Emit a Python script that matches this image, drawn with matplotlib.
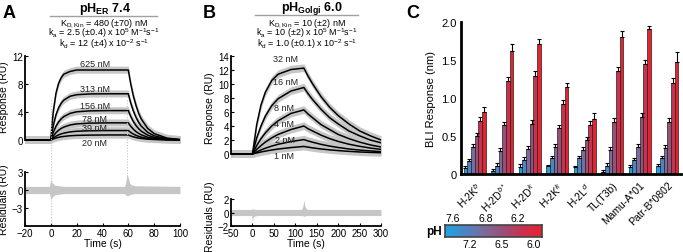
import numpy as np
import matplotlib
matplotlib.use("Agg")
import matplotlib.pyplot as plt
from matplotlib.colors import LinearSegmentedColormap

plt.rcParams['font.family'] = ['Liberation Sans', 'DejaVu Sans']
plt.rcParams['mathtext.fontset'] = 'custom'
plt.rcParams['mathtext.rm'] = 'Liberation Sans'
plt.rcParams['mathtext.it'] = 'Liberation Sans:italic'
plt.rcParams['mathtext.bf'] = 'Liberation Sans:bold'

# ---------------- data: panel A (pH ER 7.4) ----------------
a_time = [-20, 0, 1, 2, 4, 6, 8, 10, 15, 20, 30, 45, 60, 61, 62, 64, 66, 68, 70, 75, 80, 90, 100]
a_conc_labels = ["625 nM", "313 nM", "156 nM", "78 nM", "39 nM", "20 nM"]
a_625 = [0, 0, 2.4, 4.2, 6.7, 8.1, 8.9, 9.4, 9.8, 10.0, 10.0, 10.0, 10.0, 8.9, 7.9, 6.2, 4.9, 3.8, 3.0, 1.65, 0.91, 0.27, 0.08]
a_313 = [0, 0, 1.19, 2.16, 3.61, 4.59, 5.25, 5.69, 6.26, 6.47, 6.58, 6.6, 6.6, 5.85, 5.19, 4.09, 3.21, 2.53, 1.99, 1.09, 0.60, 0.18, 0.05]
a_156 = [0, 0, 0.62, 1.14, 1.97, 2.58, 3.02, 3.34, 3.81, 4.03, 4.16, 4.2, 4.2, 3.73, 3.31, 2.60, 2.05, 1.61, 1.26, 0.69, 0.38, 0.11, 0.03]
a_78 = [0, 0, 0.32, 0.60, 1.05, 1.39, 1.65, 1.84, 2.15, 2.30, 2.41, 2.45, 2.45, 2.17, 1.93, 1.52, 1.19, 0.94, 0.74, 0.40, 0.22, 0.07, 0.02]
a_39 = [0, 0, 0.16, 0.31, 0.55, 0.73, 0.87, 0.98, 1.16, 1.25, 1.32, 1.35, 1.35, 1.20, 1.06, 0.84, 0.66, 0.52, 0.41, 0.22, 0.12, 0.04, 0.01]
a_20 = [0, 0, 0.08, 0.16, 0.28, 0.38, 0.46, 0.51, 0.61, 0.66, 0.70, 0.72, 0.72, 0.64, 0.57, 0.45, 0.35, 0.28, 0.22, 0.12, 0.07, 0.02, 0.01]
a_label_pos = [(34, 10.9), (34, 7.4), (34, 4.9), (34, 3.1), (34, 1.85), (34, -0.4)]
a_res_time = [-20, -1, 0, 1, 3, 10, 57, 58, 59, 60, 61, 62, 65, 100]
a_res_hi = [0.6, 0.6, 1.8, 1.2, 0.8, 0.6, 0.6, 1.2, 2.6, 2.0, 1.2, 0.9, 0.7, 0.6]
a_res_lo = [-0.6, -0.6, -1.6, -1.2, -0.8, -0.6, -0.6, -0.8, -1.0, -0.9, -0.8, -0.7, -0.6, -0.6]

# ---------------- data: panel B (pH Golgi 6.0) ----------------
b_time = [-50, 0, 10, 20, 30, 45, 60, 90, 120, 130, 140, 160, 180, 200, 225, 250, 275, 300]
b_conc_labels = ["32 nM", "16 nM", "8 nM", "4 nM", "2 nM", "1 nM"]
b_32 = [0, 0, 4.2, 7.0, 8.8, 10.5, 11.4, 12.07, 12.27, 11.1, 10.05, 8.2, 6.7, 5.5, 4.3, 3.3, 2.6, 2.0]
b_16 = [0, 0, 2.3, 4.0, 5.4, 6.9, 7.9, 9.0, 9.5, 8.6, 7.8, 6.4, 5.2, 4.3, 3.3, 2.6, 2.0, 1.6]
b_8 = [0, 0, 1.2, 2.2, 3.0, 4.0, 4.75, 5.8, 6.3, 5.7, 5.2, 4.2, 3.5, 2.8, 2.2, 1.7, 1.3, 1.0]
b_4 = [0, 0, 0.65, 1.2, 1.7, 2.3, 2.8, 3.5, 4.0, 3.6, 3.3, 2.7, 2.2, 1.8, 1.4, 1.1, 0.85, 0.66]
b_2 = [0, 0, 0.3, 0.58, 0.82, 1.13, 1.39, 1.78, 2.06, 1.86, 1.69, 1.38, 1.13, 0.93, 0.72, 0.56, 0.44, 0.34]
b_1 = [0, 0, 0.15, 0.29, 0.41, 0.57, 0.71, 0.92, 1.08, 0.98, 0.88, 0.72, 0.59, 0.49, 0.38, 0.29, 0.23, 0.18]
b_label_pos = [(78, 13.7), (78, 10.3), (74, 6.7), (74, 4.3), (76, 2.1), (74, -0.2)]
b_res_time = [-50, -2, 0, 2, 10, 115, 118, 120, 122, 125, 130, 300]
b_res_hi = [0.45, 0.45, 0.6, 0.5, 0.45, 0.45, 1.0, 1.9, 1.0, 0.6, 0.45, 0.45]
b_res_lo = [-0.45, -0.45, -1.3, -0.6, -0.45, -0.45, -0.5, -0.6, -0.5, -0.45, -0.45, -0.45]

# ---------------- data: panel C (BLI) ----------------
alleles = ["H-2K$^{b}$", "H-2D$^{b*}$", "H-2D$^{k}$", "H-2K$^{k}$", "H-2L$^{d}$", "TL(T3b)", "Mamu-A*01", "Patr-B*0802"]
ph_values = [7.6, 7.2, 6.8, 6.5, 6.2, 6.0]
ph_labels = ["7.6", "7.2", "6.8", "6.5", "6.2", "6.0"]
bli = [
    [0.08, 0.17, 0.36, 0.50, 0.70, 0.82],
    [0.04, 0.10, 0.30, 0.64, 1.22, 1.62],
    [0.09, 0.19, 0.33, 0.66, 1.29, 1.71],
    [0.10, 0.21, 0.35, 0.60, 0.92, 1.15],
    [0.09, 0.21, 0.32, 0.45, 0.64, 0.73],
    [0.02, 0.11, 0.32, 0.69, 1.35, 1.80],
    [0.09, 0.18, 0.35, 0.75, 1.45, 1.91],
    [0.10, 0.21, 0.34, 0.69, 1.20, 1.47],
]
bli_err = [
    [0.02, 0.03, 0.04, 0.04, 0.05, 0.06],
    [0.03, 0.04, 0.04, 0.05, 0.06, 0.09],
    [0.04, 0.03, 0.04, 0.05, 0.06, 0.06],
    [0.02, 0.03, 0.04, 0.04, 0.05, 0.05],
    [0.02, 0.03, 0.04, 0.04, 0.06, 0.07],
    [0.03, 0.03, 0.04, 0.05, 0.06, 0.08],
    [0.03, 0.03, 0.04, 0.05, 0.05, 0.04],
    [0.03, 0.03, 0.04, 0.05, 0.06, 0.13],
]

W, H = 683, 253
fig = plt.figure(figsize=(W / 100, H / 100), dpi=100)

def ax_px(x0, y0, x1, y1):
    return fig.add_axes([x0 / W, 1 - y1 / H, (x1 - x0) / W, (y1 - y0) / H])

def ftext(x, y, s, **kw):
    return fig.text(x / W, 1 - y / H, s, **kw)

GRAY = '#c6c6c6'

def style_axes(ax, left_bounds, xticks=None):
    for sp in ['top', 'right']:
        ax.spines[sp].set_visible(False)
    ax.spines['left'].set_bounds(*left_bounds)
    ax.spines['left'].set_linewidth(1.3)
    ax.tick_params(axis='both', direction='in', length=2.5, width=0.8, labelsize=7, pad=1.5)
    if xticks is None:
        ax.spines['bottom'].set_visible(False)
        ax.set_xticks([])
    else:
        ax.spines['bottom'].set_linewidth(1.3)
        ax.set_xticks(xticks)
    ax.patch.set_alpha(0)

# ---------- Panel A upper ----------
axA = ax_px(25, 57, 180, 145.2)
a_series = [a_625, a_313, a_156, a_78, a_39, a_20]
for vals in a_series:
    v = np.array(vals)
    axA.fill_between(a_time, v - 0.45, v + 0.55, color=GRAY, lw=0)
axA.fill_between([-20, 0], [-0.35, -0.35], [0.45, 0.45], color=GRAY, lw=0)
for vals in a_series:
    axA.plot(a_time, vals, color='black', lw=1.1)
for lab, (tx, ty) in zip(a_conc_labels, a_label_pos):
    axA.text(tx, ty, lab, ha='center', va='center', fontsize=6.5, color='#222222')
axA.set_xlim(-20, 100)
axA.set_ylim(-0.6, 12)
axA.set_yticks([0, 4, 8, 12])
style_axes(axA, (0, 12))

# ---------- Panel A residuals ----------
axAr = ax_px(25, 173, 180, 227)
axAr.fill_between(a_res_time, a_res_lo, a_res_hi, color=GRAY, lw=0)
axAr.plot([0, 0], [-6, 15], color=GRAY, lw=0.8, ls=(0, (1, 1.5)), clip_on=False)
axAr.plot([59, 59], [0, 15], color=GRAY, lw=0.8, ls=(0, (1, 1.5)), clip_on=False)
axAr.set_xlim(-20, 100)
axAr.set_ylim(-6, 3)
axAr.set_yticks([-3, 0, 3])
style_axes(axAr, (-6, 3), xticks=[-20, 0, 20, 40, 60, 80, 100])

# ---------- Panel B upper ----------
axB = ax_px(231, 57, 381, 158.5)
b_series = [b_32, b_16, b_8, b_4, b_2, b_1]
for vals in b_series:
    v = np.array(vals)
    axB.fill_between(b_time, v - 0.5, v + 0.6, color=GRAY, lw=0)
for vals in b_series:
    axB.plot(b_time, vals, color='black', lw=1.1)
for lab, (tx, ty) in zip(b_conc_labels, b_label_pos):
    axB.text(tx, ty, lab, ha='center', va='center', fontsize=6.5, color='#222222')
axB.set_xlim(-50, 300)
axB.set_ylim(-0.5, 14)
axB.set_yticks([0, 2, 4, 6, 8, 10, 12, 14])
style_axes(axB, (0, 14))

# ---------- Panel B residuals ----------
axBr = ax_px(231, 200, 381, 227)
axBr.fill_between(b_res_time, b_res_lo, b_res_hi, color=GRAY, lw=0)
axBr.set_xlim(-50, 300)
axBr.set_ylim(-2, 2)
axBr.set_yticks([-2, 0, 2])
style_axes(axBr, (-2, 2), xticks=[-50, 0, 50, 100, 150, 200, 250, 300])

# ---------- labels / titles for A and B ----------
axA.set_ylabel("Response (RU)", fontsize=7.5, labelpad=1)
axAr.set_ylabel("Residuals (RU)", fontsize=7.5, labelpad=1)
axB.set_ylabel("Response (RU)", fontsize=7.5, labelpad=1)
axBr.set_ylabel("Residuals (RU)", fontsize=7.5, labelpad=1)
axA.yaxis.set_label_coords(-0.105, 0.55)
axAr.yaxis.set_label_coords(-0.105, 0.5)
axB.yaxis.set_label_coords(-0.105, 0.5)
axBr.yaxis.set_label_coords(-0.105, 0.4)
axAr.set_xlabel("Time (s)", fontsize=7.5, labelpad=0)
axBr.set_xlabel("Time (s)", fontsize=7.5, labelpad=0)

ftext(3, 13, "A", fontsize=13, fontweight='bold', va='center', ha='left')
ftext(203, 13, "B", fontsize=13, fontweight='bold', va='center', ha='left')
ftext(406, 13, "C", fontsize=13, fontweight='bold', va='center', ha='left')

PS = 6.5
Y1, Y2, Y3 = 23.5, 33.5, 43.8
ftext(105, 9, r"pH$_{\mathbf{ER}}$ 7.4", fontsize=9, fontweight='bold', ha='center', va='center')
fig.add_artist(plt.Line2D([50 / W, 157 / W], [1 - 17 / H, 1 - 17 / H], color='#a0a0a0', lw=1))
ftext(104, Y1, r"K$_{\mathrm{D,Kin}}$ = 480 (±70) nM", fontsize=PS, ha='center', va='center')
ftext(104, Y2, r"k$_{\mathrm{a}}$ = 2.5 (±0.4) x 10$^{5}$ M$^{-1}$s$^{-1}$", fontsize=PS, ha='center', va='center')
ftext(104, Y3, r"k$_{\mathrm{d}}$ = 12 (±4) x 10$^{-2}$ s$^{-1}$", fontsize=PS, ha='center', va='center')

ftext(312, 8, r"pH$_{\mathbf{Golgi}}$ 6.0", fontsize=9, fontweight='bold', ha='center', va='center')
fig.add_artist(plt.Line2D([255 / W, 358 / W], [1 - 16 / H, 1 - 16 / H], color='#a0a0a0', lw=1))
ftext(307, Y1, r"K$_{\mathrm{D,Kin}}$ = 10 (±2) nM", fontsize=PS, ha='center', va='center')
ftext(307, Y2, r"k$_{\mathrm{a}}$ = 10 (±2) x 10$^{5}$ M$^{-1}$s$^{-1}$", fontsize=PS, ha='center', va='center')
ftext(307, Y3, r"k$_{\mathrm{d}}$ = 1.0 (±0.1) x 10$^{-2}$ s$^{-1}$", fontsize=PS, ha='center', va='center')

# ---------- Panel C ----------
cmap = LinearSegmentedColormap.from_list('ph', ['#1fa3e2', '#4a86c6', '#7a6c9c', '#9a4f78', '#c8324f', '#e8232f'])
axC = ax_px(461, 23, 681, 175)
n = len(ph_values)
bw = 0.135
for gi, (vals, errs) in enumerate(zip(bli, bli_err)):
    for j in range(n):
        x = gi + (j - (n - 1) / 2) * bw
        axC.bar(x, vals[j], width=bw, color=cmap(j / (n - 1)), edgecolor='#222222', linewidth=0.5)
        axC.errorbar(x, vals[j], yerr=[[0], [errs[j]]], color='black', elinewidth=0.8,
                     capsize=1.4, capthick=0.8, fmt='none')
axC.set_xlim(-0.5, len(alleles) - 0.5)
axC.set_ylim(0, 2.0)
axC.set_yticks([0, 0.5, 1.0, 1.5, 2.0])
axC.set_yticklabels(["0", "0.5", "1.0", "1.5", "2.0"])
axC.set_xticks(range(len(alleles)))
axC.set_xticklabels(alleles, rotation=45, ha='right', va='top', rotation_mode='anchor', fontsize=7.5)
for sp in ['top', 'right']:
    axC.spines[sp].set_visible(False)
axC.spines['left'].set_linewidth(2)
axC.spines['bottom'].set_linewidth(2)
axC.tick_params(axis='y', direction='in', length=0, labelsize=8, pad=3)
axC.tick_params(axis='x', length=0, pad=4)
axC.set_ylabel("BLI Response (nm)", fontsize=8, labelpad=4)

# colorbar
axCb = ax_px(445, 226, 542, 238)
grad = np.linspace(0, 1, 256).reshape(1, -1)
axCb.imshow(grad, aspect='auto', cmap=cmap, extent=[0, len(ph_values), 0, 1])
axCb.set_xticks([])
axCb.set_yticks([])
for sp in axCb.spines.values():
    sp.set_linewidth(1.2)
    sp.set_color('#444444')
for j, lab in enumerate(ph_labels):
    if j % 2 == 0:
        axCb.text(j + 0.5, 1.15, lab, ha='center', va='bottom', fontsize=7.5, transform=axCb.transData, clip_on=False)
    else:
        axCb.text(j + 0.5, -0.15, lab, ha='center', va='top', fontsize=7.5, transform=axCb.transData, clip_on=False)
axCb.set_xlim(0, len(ph_values))
axCb.set_ylim(0, 1)
ftext(442, 232, "pH", fontsize=8.5, fontweight='bold', ha='right', va='center')

fig.savefig("out.png", dpi=100)
